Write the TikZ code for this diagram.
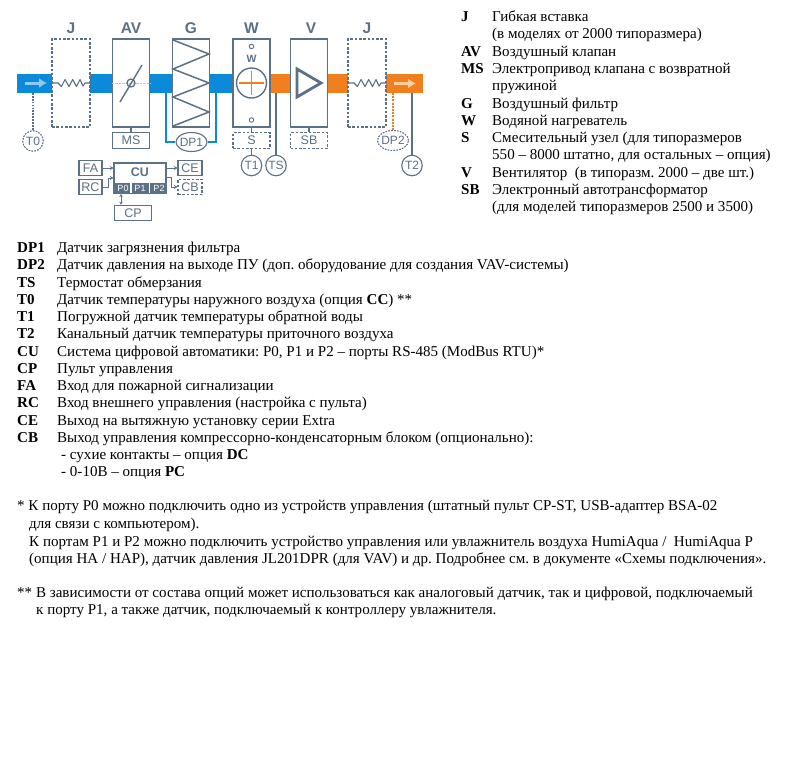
\documentclass[tikz,border=0pt]{standalone}
\usepackage{fontspec}
\setmainfont{Liberation Serif}
\newfontfamily\dsans{Liberation Sans}
\usetikzlibrary{arrows.meta,shapes.geometric}
\definecolor{gr}{HTML}{5C7086}
\definecolor{bl}{HTML}{0A8AD8}
\definecolor{og}{HTML}{F0801E}
\definecolor{ltb}{HTML}{8FCBF0}
\definecolor{lto}{HTML}{FBCFA0}
\frenchspacing
\tikzset{
 x=1pt,y=-1pt,
 unit/.style={draw=gr,line width=1.5pt,fill=white},
 dbox/.style={draw=gr,line width=1.4pt,dash pattern=on 2.6pt off 1.7pt,fill=white},
 head/.style={text=gr,font=\dsans\bfseries\fontsize{15.5}{15.5}\selectfont,inner sep=0pt,anchor=center},
 sbox/.style={draw=gr,line width=1.1pt,fill=white,minimum width=37pt,minimum height=15.5pt,inner sep=0pt,text=gr,font=\dsans\fontsize{12.5}{12.5}\selectfont},
 tcirc/.style={circle,draw=gr,line width=1.1pt,fill=white,minimum size=20.5pt,inner sep=0pt,text=gr,font=\dsans\fontsize{12}{12}\selectfont},
 oval/.style={ellipse,draw=gr,line width=1.1pt,fill=white,inner sep=0pt},
 ovaltext/.style={text=gr,font=\dsans\fontsize{12}{12}\selectfont,inner sep=0pt},
 conn/.style={draw=gr,line width=1.1pt},
 carr/.style={draw=gr,line width=0.9pt,-{Stealth[length=3.5pt,width=4pt]}},
 tx/.style={inner sep=0pt,anchor=base west,font=\fontsize{15.05}{15.05}\selectfont},
 key/.style={inner sep=0pt,anchor=base west,font=\bfseries\fontsize{15.05}{15.05}\selectfont},
}
\newcommand{\rowk}[4]{\node[key] (k#1) at (#2,#3) {#4};}
\newcommand{\rowt}[4]{\node[tx] (t#1) at (#2,#3) {#4};}
\begin{document}
\begin{tikzpicture}
\useasboundingbox (0,0) rectangle (800,777);
\fill[white] (0,0) rectangle (800,777);
% duct
\fill[bl] (17,74) rectangle (236,93);
\fill[og] (270,74) rectangle (423,93);
% arrows in duct
\draw[ltb,line width=3pt,-{Latex[length=8pt,width=10pt]}] (25,83) -- (47,83);
% J left
\node[dbox,minimum width=38pt,minimum height=88pt,inner sep=0pt] (J1) at (71,83) {};
\node[head] (hJ1) at (71,28) {J};
% AV
\node[unit,minimum width=37pt,minimum height=88pt,inner sep=0pt] (AV) at (131,83) {};
\node[head] (hAV) at (131,28) {AV};
\draw[gr!40,line width=.4pt,densely dotted] (AV.west) -- (AV.east);
\draw[gr,line width=1.4pt] (120,102) -- (142,65);
\node[circle,draw=gr,line width=1.3pt,minimum size=8pt,inner sep=0pt] (dis) at (131,83) {};
\node[sbox] (MS) at (131,140.5) {MS};
\draw[conn] (AV.south) -- (MS.north);
% G
\node[unit,minimum width=37pt,minimum height=88pt,inner sep=0pt] (G) at (191,83) {};
\node[head] (hG) at (191,28) {G};
\draw[gr,line width=1.5pt,line join=miter] (173,40) -- (209,54) -- (173,69) -- (209,83) -- (173,97) -- (209,112) -- (173,126);
% W
\node[unit,minimum width=37pt,minimum height=88pt,inner sep=0pt] (W) at (251.5,83) {};
\node[head] (hW) at (251.5,28) {W};
\node[circle,draw=gr,line width=.9pt,minimum size=4.5pt,inner sep=0pt] (wa) at (251.5,46.5) {};
\node[circle,draw=gr,line width=.9pt,minimum size=4.5pt,inner sep=0pt] (wb) at (251.5,120) {};
\node[text=gr,font=\dsans\bfseries\fontsize{10.5}{10.5}\selectfont,inner sep=0pt] (wl) at (251.5,59) {W};
\node[circle,draw=gr,line width=1.4pt,minimum size=30pt,inner sep=0pt] (wc) at (251.5,83) {};
\draw[og,line width=1.3pt] (239,83) -- (264,83) (251.5,71) -- (251.5,95);
\node[sbox,dbox,line width=1.1pt,minimum width=37pt,minimum height=15.5pt] (S) at (251.5,140.5) {S};
\draw[conn] (W.south) -- (S.north);
\node[tcirc] (T1) at (251.5,165.5) {T1};
\draw[conn] (S.south) -- (T1.north);
\coordinate (tsa) at (276,93);
\node[tcirc] (TS) at (276,165.5) {TS};
\draw[conn] (tsa) -- (TS.north);
% V
\node[unit,minimum width=37pt,minimum height=88pt,inner sep=0pt] (V) at (309,83) {};
\node[head] (hV) at (311,28) {V};
\draw[gr,line width=2.8pt,line join=miter] (297,69) -- (321,83) -- (297,97) -- cycle;
\node[sbox,dbox,line width=1.1pt,minimum width=37pt,minimum height=15.5pt] (SB) at (309,140.5) {SB};
\draw[conn] (V.south) -- (SB.north);
% J right
\node[dbox,minimum width=38pt,minimum height=88pt,inner sep=0pt] (J2) at (367,83) {};
\node[head] (hJ2) at (367,28) {J};
% zigzag springs
\draw[gr,line width=1.1pt,line join=round] (J1.west |- 0,83) -- (58,83) -- (61.5,86.5) -- (65,79.5) -- (69,86.5) -- (72.7,79.5) -- (76.5,86.5) -- (80,79.5) -- (83,86) -- (85,83) -- (J1.east |- 0,83);
\draw[gr,line width=1.1pt,line join=round] (J2.west |- 0,83) -- (354,83) -- (357.5,86.5) -- (361,79.5) -- (365,86.5) -- (368.7,79.5) -- (372.5,86.5) -- (376,79.5) -- (379,86) -- (381,83) -- (J2.east |- 0,83);
\draw[lto,line width=3pt,-{Latex[length=8pt,width=10pt]}] (394,83.5) -- (416,83.5);
% T0
\node[tcirc,dash pattern=on 1.7pt off 1.2pt] (T0) at (33,141) {T0};
\coordinate (t0a) at (33,93);
\draw[conn,dash pattern=on 1.7pt off 1.2pt] (t0a) -- (T0.north);
% DP1
\coordinate (dpa) at (166,93);
\coordinate (dpb) at (216,93);
\node[oval,minimum width=31pt,minimum height=19pt,label={[ovaltext]center:DP1}] (DP1) at (191.5,142) {};
\draw[bl,line width=1.4pt] (dpa) |- (DP1.west) (DP1.east) -| (dpb);
% DP2
\node[oval,dash pattern=on 1.7pt off 1.2pt,minimum width=31pt,minimum height=20pt,label={[ovaltext]center:DP2}] (DP2) at (393,140.5) {};
\coordinate (dp2a) at (393,93);
\draw[og,line width=1.4pt,dash pattern=on 2pt off 1.2pt] (dp2a) -- (DP2.north);
% T2
\node[tcirc] (T2) at (412,165.5) {T2};
\coordinate (t2a) at (412,93);
\draw[conn] (t2a) -- (T2.north);
% CU
\node[draw=gr,line width=1.1pt,fill=white,minimum width=52pt,minimum height=30pt,inner sep=0pt] (CU) at (140,178) {};
\node[text=gr,font=\dsans\bfseries\fontsize{12.5}{12.5}\selectfont,inner sep=0pt] (CUl) at (140,172) {CU};
\fill[gr] (114,183) rectangle (166,193);
\foreach \n/\xx in {P0/123,P1/140,P2/159}{
 \node[text=white,font=\dsans\fontsize{9}{9}\selectfont,inner sep=0pt] (\n) at (\xx,188) {\n};}
\draw[white,line width=1.2pt] (131,183) -- (131,193) (149.5,183) -- (149.5,193);
\node[sbox,minimum width=23pt,minimum height=15.5pt] (FA) at (90.5,168) {FA};
\node[sbox,minimum width=23pt,minimum height=15.5pt] (RC) at (90.5,187) {RC};
\node[sbox,minimum width=24pt,minimum height=15.5pt] (CE) at (190,168) {CE};
\node[sbox,dbox,line width=1.1pt,minimum width=24pt,minimum height=15.5pt] (CB) at (190,187) {CB};
\node[sbox] (CP) at (133,213) {CP};
\draw[carr] (FA.east) -- (CU.west |- FA.east);
\draw[carr] (RC.east) -- (108,187) -- (108,178) -- (CU.west |- 0,178);
\draw[carr] (CU.east |- CE.west) -- (CE.west);
\draw[carr] (CU.east |- 0,177) -- (171,177) -- (171,187) -- (CB.west);
\draw[gr,line width=.9pt,{Stealth[length=3pt,width=3.5pt]}-{Stealth[length=3pt,width=3.5pt]}] (121,194) -- (CP.north -| 121,0);
% right legend
\rowk{a}{461}{21}{J}\rowt{a}{492}{21}{Гибкая вставка}
\rowt{a2}{492}{38.5}{(в моделях от 2000 типоразмера)}
\rowk{b}{461}{56}{AV}\rowt{b}{492}{56}{Воздушный клапан}
\rowk{c}{461}{73}{MS}\rowt{c}{492}{73}{Электропривод клапана с возвратной}
\rowt{c2}{492}{90}{пружиной}
\rowk{d}{461}{108}{G}\rowt{d}{492}{108}{Воздушный фильтр}
\rowk{e}{461}{125}{W}\rowt{e}{492}{125}{Водяной нагреватель}
\rowk{f}{461}{142}{S}\rowt{f}{492}{142}{Смесительный узел (для типоразмеров}
\rowt{f2}{492}{159}{550 – 8000 штатно, для остальных – опция)}
\rowk{g}{461}{177}{V}\rowt{g}{492}{177}{Вентилятор\ \ (в типоразм. 2000 – две шт.)}
\rowk{h}{461}{194}{SB}\rowt{h}{492}{194}{Электронный автотрансформатор}
\rowt{h2}{492}{211}{(для моделей типоразмеров 2500 и 3500)}
% lower legend
\rowk{i}{17}{252}{DP1}\rowt{i}{57}{252}{Датчик загрязнения фильтра}
\rowk{j}{17}{269}{DP2}\rowt{j}{57}{269}{Датчик давления на выходе ПУ (доп. оборудование для создания VAV-системы)}
\rowk{k}{17}{287}{TS}\rowt{k}{57}{287}{Термостат обмерзания}
\rowk{l}{17}{304}{T0}\rowt{l}{57}{304}{Датчик температуры наружного воздуха (опция \textbf{CC}) **}
\rowk{m}{17}{321}{T1}\rowt{m}{57}{321}{Погружной датчик температуры обратной воды}
\rowk{n}{17}{338}{T2}\rowt{n}{57}{338}{Канальный датчик температуры приточного воздуха}
\rowk{o}{17}{356}{CU}\rowt{o}{57}{356}{Система цифровой автоматики: P0, P1 и P2 – порты RS-485 (ModBus RTU)*}
\rowk{p}{17}{373}{CP}\rowt{p}{57}{373}{Пульт управления}
\rowk{q}{17}{390}{FA}\rowt{q}{57}{390}{Вход для пожарной сигнализации}
\rowk{r}{17}{407}{RC}\rowt{r}{57}{407}{Вход внешнего управления (настройка с пульта)}
\rowk{s}{17}{425}{CE}\rowt{s}{57}{425}{Выход на вытяжную установку серии Extra}
\rowk{t}{17}{442}{CB}\rowt{t}{57}{442}{Выход управления компрессорно-конденсаторным блоком (опционально):}
\rowt{t2}{61}{459}{- сухие контакты – опция \textbf{DC}}
\rowt{t3}{61}{476}{- 0-10В – опция \textbf{PC}}
% notes
\rowt{u}{17}{510}{* К порту P0 можно подключить одно из устройств управления (штатный пульт CP-ST, USB-адаптер BSA-02}
\rowt{u2}{29}{528}{для связи с компьютером).}
\rowt{u3}{29}{546}{К портам P1 и P2 можно подключить устройство управления или увлажнитель воздуха HumiAqua /\ \ HumiAqua P}
\rowt{u4}{29}{563.5}{(опция HA / HAP), датчик давления JL201DPR (для VAV) и др. Подробнее см. в документе «Схемы подключения».}
\rowt{v}{17}{597}{** В зависимости от состава опций может использоваться как аналоговый датчик, так и цифровой, подключаемый}
\rowt{v2}{36}{614.5}{к порту P1, а также датчик, подключаемый к контроллеру увлажнителя.}
\end{tikzpicture}
\end{document}
